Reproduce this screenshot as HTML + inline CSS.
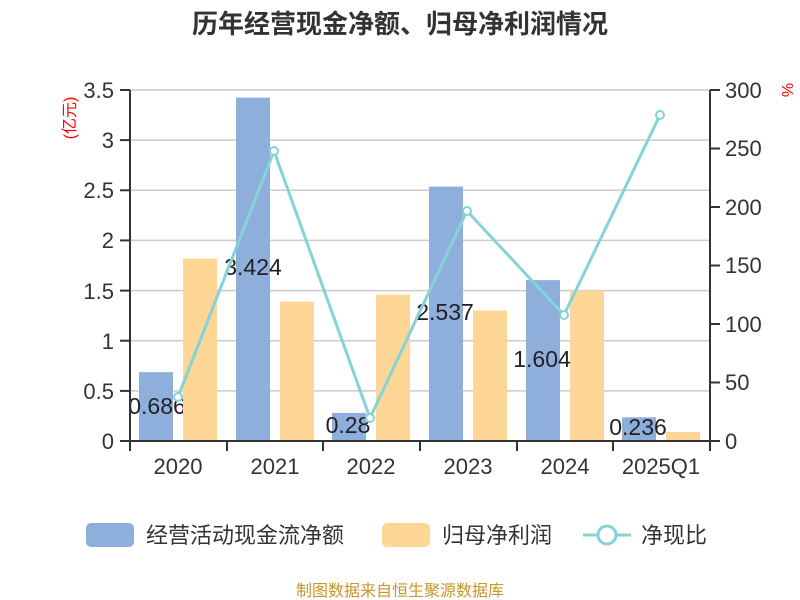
<!DOCTYPE html>
<html><head><meta charset="utf-8"><style>body{margin:0;background:#fff}svg{display:block}text{font-family:"Liberation Sans","Noto Sans CJK SC",sans-serif}</style></head><body>
<svg width="800" height="600" xmlns="http://www.w3.org/2000/svg">
<text x="400" y="33" text-anchor="middle" font-size="26" font-weight="bold" fill="#333">历年经营现金净额、归母净利润情况</text>
<g stroke="#ccc" stroke-width="1.5">
<line x1="130" x2="710" y1="90" y2="90"/><line x1="130" x2="710" y1="140.1" y2="140.1"/><line x1="130" x2="710" y1="190.3" y2="190.3"/><line x1="130" x2="710" y1="240.4" y2="240.4"/><line x1="130" x2="710" y1="290.6" y2="290.6"/><line x1="130" x2="710" y1="340.7" y2="340.7"/><line x1="130" x2="710" y1="390.9" y2="390.9"/>
</g>
<g fill="#8eaedb">
<rect x="139" y="372.2" width="34" height="68.8"/>
<rect x="236" y="97.6" width="34" height="343.4"/>
<rect x="332" y="412.9" width="34" height="28.1"/>
<rect x="429" y="186.6" width="34" height="254.4"/>
<rect x="526" y="280.1" width="34" height="160.9"/>
<rect x="622" y="417.3" width="34" height="23.7"/>
</g>
<g font-size="23" fill="#222" text-anchor="middle">
<text x="157" y="414">0.686</text><text x="253" y="275">3.424</text><text x="348" y="433">0.28</text><text x="445" y="320">2.537</text><text x="542" y="367">1.604</text><text x="638" y="435">0.236</text>
</g>
<g fill="#fed796">
<rect x="183" y="258.5" width="34" height="182.5"/>
<rect x="280" y="301.6" width="34" height="139.4"/>
<rect x="376" y="294.6" width="34" height="146.4"/>
<rect x="473" y="310.6" width="34" height="130.4"/>
<rect x="570" y="290.6" width="34" height="150.4"/>
<rect x="666" y="432" width="34" height="9"/>
</g>
<polyline points="178,397 274,151 370,418 467,211 564,315 660,115" fill="none" stroke="#85d3d6" stroke-width="3"/>
<g fill="#fff" stroke="#85d3d6" stroke-width="2">
<circle cx="178" cy="397" r="4"/><circle cx="274" cy="151" r="4"/><circle cx="370" cy="418" r="4"/><circle cx="467" cy="211" r="4"/><circle cx="564" cy="315" r="4"/><circle cx="660" cy="115" r="4"/>
</g>
<g stroke="#333" stroke-width="2">
<line x1="130" y1="90" x2="130" y2="441"/><line x1="710" y1="90" x2="710" y2="441"/><line x1="120" y1="441" x2="720" y2="441"/>
<line x1="120" y1="90" x2="130" y2="90"/><line x1="120" y1="140.1" x2="130" y2="140.1"/><line x1="120" y1="190.3" x2="130" y2="190.3"/><line x1="120" y1="240.4" x2="130" y2="240.4"/><line x1="120" y1="290.6" x2="130" y2="290.6"/><line x1="120" y1="340.7" x2="130" y2="340.7"/><line x1="120" y1="390.9" x2="130" y2="390.9"/>
<line x1="710" y1="90" x2="720" y2="90"/><line x1="710" y1="148.5" x2="720" y2="148.5"/><line x1="710" y1="207" x2="720" y2="207"/><line x1="710" y1="265.5" x2="720" y2="265.5"/><line x1="710" y1="324" x2="720" y2="324"/><line x1="710" y1="382.5" x2="720" y2="382.5"/>
<line x1="130" y1="441" x2="130" y2="451"/><line x1="227" y1="441" x2="227" y2="451"/><line x1="323" y1="441" x2="323" y2="451"/><line x1="420" y1="441" x2="420" y2="451"/><line x1="517" y1="441" x2="517" y2="451"/><line x1="613" y1="441" x2="613" y2="451"/><line x1="710" y1="441" x2="710" y2="451"/>
</g>
<g font-size="22" fill="#333" text-anchor="end">
<text x="114" y="98">3.5</text><text x="114" y="148">3</text><text x="114" y="198">2.5</text><text x="114" y="248">2</text><text x="114" y="299">1.5</text><text x="114" y="349">1</text><text x="114" y="399">0.5</text><text x="114" y="449">0</text>
</g>
<g font-size="22" fill="#333">
<text x="725" y="98">300</text><text x="725" y="156">250</text><text x="725" y="215">200</text><text x="725" y="273">150</text><text x="725" y="332">100</text><text x="725" y="390">50</text><text x="725" y="449">0</text>
</g>
<g font-size="22" fill="#333" text-anchor="middle">
<text x="178" y="474">2020</text><text x="275" y="474">2021</text><text x="371" y="474">2022</text><text x="468" y="474">2023</text><text x="565" y="474">2024</text><text x="661" y="474">2025Q1</text>
</g>
<text transform="translate(75,118) rotate(-90)" text-anchor="middle" font-size="16" fill="#f00">(亿元)</text>
<text transform="translate(782,90) rotate(90)" text-anchor="middle" font-size="16" fill="#f00">%</text>
<rect x="86" y="523" width="48" height="24" rx="5" fill="#8eaedb"/>
<text x="146" y="543" font-size="22" fill="#333">经营活动现金流净额</text>
<rect x="382" y="523" width="48" height="24" rx="5" fill="#fed796"/>
<text x="442" y="543" font-size="22" fill="#333">归母净利润</text>
<line x1="583" y1="535" x2="631" y2="535" stroke="#85d3d6" stroke-width="3"/>
<circle cx="607" cy="535" r="9" fill="#fff" stroke="#85d3d6" stroke-width="3"/>
<text x="641" y="543" font-size="22" fill="#333">净现比</text>
<text x="400" y="596" text-anchor="middle" font-size="16" fill="#c8952a">制图数据来自恒生聚源数据库</text>
</svg>
</body></html>
